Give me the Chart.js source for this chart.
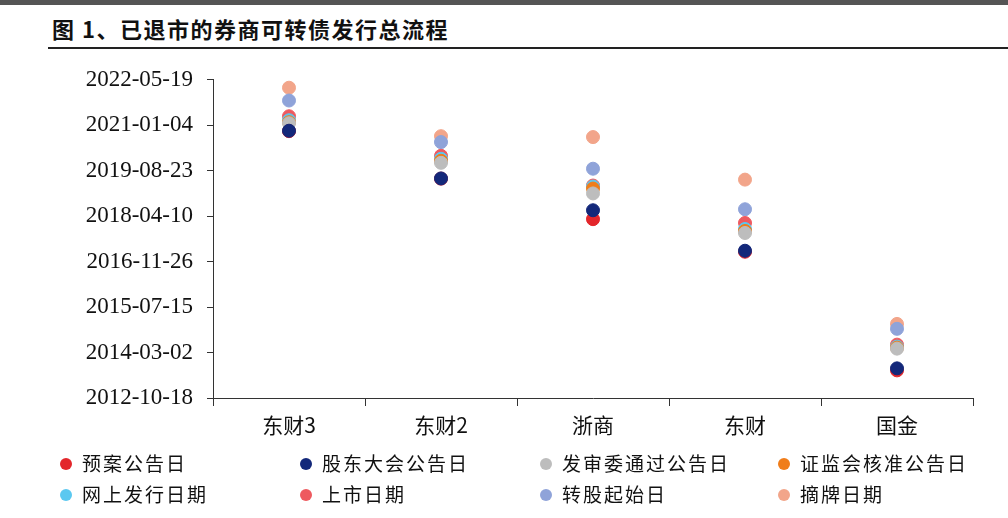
<!DOCTYPE html>
<html>
<head>
<meta charset="utf-8">
<script src="https://cdn.jsdelivr.net/npm/chart.js"></script>
<style>
  body { margin: 0; background: #fff; width: 1008px; height: 518px; overflow: hidden; position: relative; }
  #topbar { height: 5px; background: #555; }
  #title { position: absolute; left: 52px; top: 12px; font: bold 22px "Noto Sans CJK SC", sans-serif; color: #111; letter-spacing: 1.5px; }
  #rule { position: absolute; left: 48px; right: 0; top: 47px; border-top: 2px solid #222; }
  #wrap { position: absolute; left: 40px; top: 52px; width: 968px; height: 400px; }
  #legend { position: absolute; left: 60px; top: 449px; display: grid; grid-template-columns: 240px 240px 238px 240px; row-gap: 4px;
            font: 19px "Noto Sans CJK SC", sans-serif; color: #111; letter-spacing: 2px; }
  #legend span.dot { display: inline-block; width: 12px; height: 12px; border-radius: 50%; margin-right: 10px; vertical-align: middle; position: relative; top: -2px; }
</style>
</head>
<body>
<div id="topbar"></div>
<div id="title">图 1、已退市的券商可转债发行总流程</div>
<div id="rule"></div>
<div id="wrap"><canvas id="chart"></canvas></div>
<div id="legend"></div>
<script>
const categories = ['东财3', '东财2', '浙商', '东财', '国金'];
const seriesNames = ['预案公告日', '股东大会公告日', '发审委通过公告日', '证监会核准公告日', '网上发行日期', '上市日期', '转股起始日', '摘牌日期'];
const colors = ['#e3262b', '#13287a', '#bdbdbd', '#f07d1a', '#5bc8f0', '#ee5a5f', '#8fa3d9', '#f2a58a'];
// one array per company, same order as seriesNames
const dongcai3 = ['2020-10-31', '2020-11-05', '2021-01-26', '2021-02-06', '2021-02-28', '2021-04-13', '2021-10-03', '2022-02-21'];
const dongcai2 = ['2019-05-28', '2019-05-30', '2019-11-18', '2019-12-10', '2020-01-01', '2020-02-03', '2020-07-03', '2020-09-06'];
const zheshang = ['2018-03-08', '2018-06-14', '2018-12-16', '2019-02-08', '2019-03-02', '2019-03-13', '2019-09-14', '2020-08-27'];
const dongcai = ['2017-03-15', '2017-03-26', '2017-10-07', '2017-10-29', '2017-11-20', '2018-01-25', '2018-06-25', '2019-05-17'];
const guojin = ['2013-08-18', '2013-09-09', '2014-04-14', '2014-04-25', '2014-05-06', '2014-05-28', '2014-11-18', '2015-01-11'];
const yTicks = ['2012-10-18', '2014-03-02', '2015-07-15', '2016-11-26', '2018-04-10', '2019-08-23', '2021-01-04', '2022-05-19'];

const rows = [dongcai3, dongcai2, zheshang, dongcai, guojin];
const ts = s => Date.parse(s + 'T00:00:00Z');
const fmt = v => new Date(v).toISOString().slice(0, 10);

const datasets = seriesNames.map((name, i) => ({
  label: name,
  data: categories.map((c, j) => ({ x: c, y: ts(rows[j][i]) })),
  backgroundColor: colors[i],
  borderColor: colors[i],
  pointRadius: 6.5,
  pointHoverRadius: 6.5,
  order: i === 1 ? -1 : 0
}));

document.getElementById('legend').innerHTML = seriesNames.map((n, i) =>
  `<div><span class="dot" style="background:${colors[i]}"></span>${n}</div>`).join('');

new Chart(document.getElementById('chart'), {
  type: 'scatter',
  data: { labels: categories, datasets },
  options: {
    responsive: true, maintainAspectRatio: false, animation: false,
    layout: { padding: { right: 35, top: 24 } },
    plugins: { tooltip: { enabled: false }, legend: { display: false } },
    scales: {
      x: {
        type: 'category', labels: categories, offset: true,
        afterFit: a => { a.height = 54; },
        grid: { display: true, drawOnChartArea: false, offset: true, color: '#333', tickLength: 8 },
        border: { color: '#333' },
        ticks: { color: '#111', padding: 6, font: { size: 21, family: '"Noto Sans CJK SC", "Liberation Serif", serif' } }
      },
      y: {
        min: ts(yTicks[0]), max: ts(yTicks[yTicks.length - 1]),
        afterBuildTicks: axis => { axis.ticks = yTicks.map(t => ({ value: ts(t) })); },
        afterFit: a => { a.width = 173; },
        grid: { display: true, drawOnChartArea: false, color: '#333', tickLength: 6 },
        border: { color: '#333' },
        ticks: { color: '#111', padding: 14, callback: v => fmt(v), font: { size: 23, family: '"Liberation Serif", serif' } }
      }
    }
  }
});
</script>
</body>
</html>
